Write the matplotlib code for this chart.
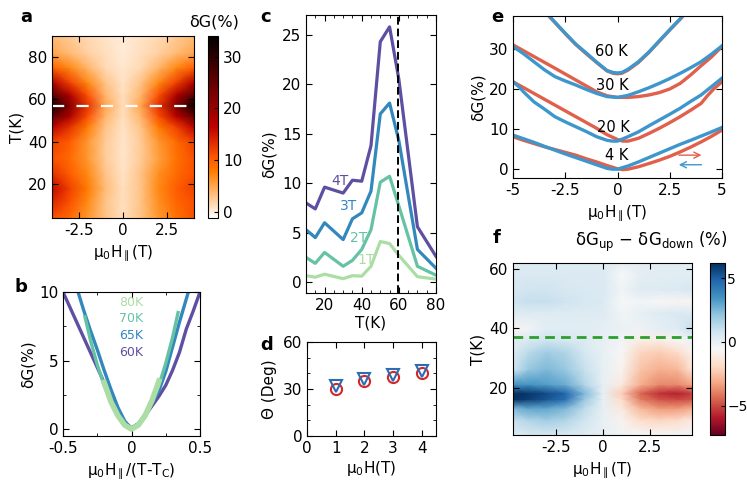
import numpy as np
import matplotlib.pyplot as plt
from matplotlib.ticker import MultipleLocator

plt.rcParams['font.family'] = ['DejaVu Sans']
plt.rcParams['mathtext.default'] = 'regular'
plt.rcParams['axes.unicode_minus'] = False
plt.rcParams['font.size'] = 11

# ---------- panel a : dG map (T vs H) ----------
a_H = [-4, -3, -2, -1, 0, 1, 2, 3, 4]
a_T = [4, 12, 18, 25, 32, 40, 47, 52, 57, 62, 68, 75, 82, 90]
a_dG = [
    [11, 9, 6, 3, 1, 3, 6, 8.5, 11],
    [14, 11, 7, 3, 1, 3, 6.5, 9.5, 11],
    [16, 12, 8, 3.5, 1, 3, 7, 10, 12],
    [13, 10, 7, 3, 0.8, 3, 6.5, 9, 11],
    [11, 9, 6, 2.5, 0.6, 2.5, 5.5, 8.5, 11],
    [12, 10, 6, 2.5, 0.6, 2.5, 6, 9, 12],
    [17, 13, 8, 3, 0.8, 3, 8, 12, 17],
    [25, 18, 11, 4, 1, 4, 11, 17, 25],
    [32, 22, 13, 5, 1.2, 5, 13, 22, 33],
    [26, 18, 11, 4, 1, 4, 11, 18, 26],
    [18, 12, 7, 3, 0.8, 3, 7, 12, 18],
    [10, 7, 4, 1.5, 0.5, 1.5, 4, 7, 10],
    [5, 3.5, 2, 1, 0.3, 1, 2, 3.5, 5],
    [3.5, 2.5, 1.5, 0.8, 0.3, 0.8, 1.5, 2.5, 3.5],
]
a_Tline = 57

# ---------- panel b : scaled curves ----------
b_labels = ['80K', '70K', '65K', '60K']
b_colors = ['#abdda4', '#66c2a5', '#3288bd', '#5e4fa2']
b_x = {
    '60K': [-0.5, -0.45, -0.4, -0.35, -0.3, -0.25, -0.2, -0.15, -0.1, -0.05, 0,
            0.05, 0.1, 0.15, 0.2, 0.25, 0.3, 0.35, 0.4, 0.45, 0.5],
    '65K': [-0.39, -0.35, -0.3, -0.25, -0.2, -0.15, -0.1, -0.05, 0,
            0.05, 0.1, 0.15, 0.2, 0.25, 0.3, 0.35, 0.415],
    '70K': [-0.34, -0.3, -0.25, -0.2, -0.15, -0.1, -0.05, 0,
            0.05, 0.1, 0.15, 0.2, 0.25, 0.3, 0.34],
    '80K': [-0.2, -0.15, -0.1, -0.05, 0, 0.05, 0.1, 0.15, 0.2],
}
b_y = {
    '60K': [10, 8.9, 7.8, 6.7, 5.6, 4.5, 3.4, 2.3, 1.3, 0.5, 0.1,
            0.4, 1.0, 1.7, 2.4, 3.2, 4.3, 5.6, 7.3, 8.6, 10],
    '65K': [10, 8.7, 7.2, 5.8, 4.3, 2.9, 1.6, 0.6, 0,
            0.4, 1.1, 1.9, 2.8, 4.2, 6.0, 7.8, 10],
    '70K': [8.2, 6.5, 4.7, 3.2, 2.0, 1.0, 0.3, 0,
            0.3, 1.0, 2.0, 3.2, 4.8, 6.7, 8.5],
    '80K': [3.4, 2.0, 1.0, 0.3, 0, 0.3, 1.0, 2.1, 3.5],
}
b_text_y = [9.27, 8.1, 6.85, 5.6]

# ---------- panel c : dG vs T ----------
c_T = [10, 15, 20, 30, 35, 40, 45, 50, 55, 60, 70, 80]
c_4T = [8.0, 7.4, 9.6, 9.0, 10.3, 10.2, 13.8, 24.3, 25.8, 20.5, 5.6, 2.6]
c_3T = [5.3, 4.5, 6.0, 4.3, 6.4, 7.0, 9.2, 17.0, 18.1, 14.3, 3.3, 1.4]
c_2T = [2.5, 1.9, 3.0, 1.6, 2.2, 3.3, 5.3, 10.1, 10.7, 7.7, 1.6, 0.7]
c_1T = [0.65, 0.5, 0.8, 0.35, 0.65, 0.6, 1.6, 4.1, 3.9, 2.7, 0.55, 0.3]
c_Tc = 59.5

# ---------- panel d : angle ----------
d_H = [1, 2, 3, 4]
d_circ = [30, 35, 37.5, 40.3]
d_tri = [32, 36.2, 39, 41.8]

# ---------- panel e : up/down sweeps ----------
e_up = {
    '4 K': ([-5, -4.5, -4, -3.5, -3, -2.5, -2, -1.5, -1, -0.5, 0, 0.25, 0.5, 1, 1.5,
             2, 2.5, 3, 3.5, 4, 4.5, 5],
            [8.1, 7.2, 6.4, 5.6, 4.9, 4.2, 3.5, 2.6, 1.8, 0.9, 0.1, -0.1, 0.0, 0.6, 1.4,
             2.25, 3.2, 4.3, 5.5, 6.8, 8.2, 9.75]),
    '20 K': ([-5, -4, -3, -2, -1, -0.5, 0, 0.25, 0.5, 1, 1.5, 2, 2.5, 3, 3.5, 4,
              4.3, 4.6, 5],
             [21.8, 18.9, 16.0, 13.1, 10.2, 8.6, 7.4, 7.0, 7.0, 7.7, 8.9, 10.2, 11.6,
              13.1, 14.7, 16.4, 18.3, 20.0, 21.8]),
    '30 K': ([-5, -4, -3, -2, -1, -0.5, 0, 0.5, 1, 1.5, 2, 2.5, 3, 3.5, 4, 4.5, 5],
             [31.0, 28.1, 25.2, 22.25, 19.3, 18.3, 17.9, 17.9, 18.1, 18.5, 19.1, 20.0,
              21.4, 23.5, 25.8, 28.0, 30.6]),
    '60 K': ([-3.25, -3, -2.5, -2, -1.5, -1, -0.5, -0.2, 0, 0.2, 0.5, 1, 1.5, 2, 2.5,
              3, 3.1],
             [38.0, 36.6, 33.8, 31.1, 28.8, 26.6, 24.5, 23.9, 23.8, 23.9, 24.7, 26.6,
              29.1, 31.9, 34.7, 37.4, 38.0]),
}
e_down = {
    '4 K': ([-5, -4.5, -4, -3.5, -3, -2.5, -2, -1.5, -1, -0.5, -0.25, 0, 0.25, 0.5, 1,
             1.5, 2, 2.5, 3, 3.5, 4, 4.5, 5],
            [8.5, 7.6, 6.7, 5.7, 4.75, 3.8, 2.9, 2.0, 1.1, 0.2, 0.0, 0.0, 0.4, 0.8, 1.8,
             2.9, 4.0, 5.1, 6.2, 7.2, 8.25, 9.3, 10.4]),
    '20 K': ([-5, -4.7, -4.5, -4, -3.5, -3, -2.5, -2, -1.5, -1, -0.5, -0.25, 0, 0.5,
              1, 1.5, 2, 2.5, 3, 3.5, 4, 4.5, 5],
             [21.8, 20.5, 19.3, 16.8, 15.0, 13.1, 11.8, 10.6, 9.4, 8.1, 7.2, 7.0, 7.0,
              8.1, 9.3, 10.8, 12.25, 13.7, 15.2, 16.9, 18.5, 20.6, 22.7]),
    '30 K': ([-5, -4.5, -4, -3.5, -3, -2.5, -2, -1.5, -1, -0.5, 0, 0.5, 1, 1.5, 2,
              2.5, 3, 3.5, 4, 4.5, 5],
             [30.6, 28.8, 26.8, 24.8, 23.1, 22.0, 21.0, 19.9, 18.9, 18.1, 17.9, 18.4,
              19.3, 20.3, 21.4, 22.6, 23.9, 25.3, 26.8, 28.7, 30.75]),
    '60 K': ([-3.25, -3, -2.5, -2, -1.5, -1, -0.5, -0.2, 0, 0.2, 0.5, 1, 1.5, 2, 2.5,
              3, 3.1],
             [38.1, 36.7, 33.9, 31.2, 29.0, 26.7, 24.6, 24.1, 24.0, 24.1, 24.9, 26.8,
              29.2, 32.0, 34.8, 37.5, 38.1]),
}
e_text = {'60 K': (-0.3, 29.3), '30 K': (-0.25, 20.8), '20 K': (-0.2, 10.5), '4 K': (-0.05, 3.5)}

# ---------- panel f : up - down map ----------
f_H = [-4.8, -4, -3, -2, -1, 0, 1, 2, 3, 4, 4.75]
f_T = [4, 9, 13, 16, 18, 21, 26, 32, 36, 40, 45, 49, 53, 58, 62]
f_diff = [
    [0.3, 0.5, 0.6, 0.5, 0.3, 0, -0.3, -0.5, -0.5, -0.4, -0.3],
    [1.0, 1.5, 1.8, 1.5, 0.8, 0, -0.8, -1.8, -2.0, -1.8, -1.2],
    [2.5, 3.0, 3.0, 2.5, 1.2, 0, -1.2, -2.8, -3.5, -3.5, -3.0],
    [6.5, 5.8, 5.2, 4.5, 2.0, 0, -1.8, -4.0, -4.8, -5.0, -4.8],
    [7.0, 6.0, 5.5, 4.8, 2.5, 0, -2.2, -4.5, -5.5, -5.8, -5.2],
    [3.5, 3.5, 3.2, 2.8, 1.5, 0, -1.2, -3.0, -3.8, -3.8, -3.2],
    [0.8, 2.0, 2.5, 2.0, 1.0, 0, -0.8, -2.5, -3.0, -2.8, -1.5],
    [0.3, 1.2, 1.8, 1.5, 0.6, 0, -0.6, -2.0, -2.2, -1.8, -0.8],
    [0.2, 0.5, 0.8, 0.6, 0.3, 0, -0.3, -1.0, -1.0, -0.6, -0.2],
    [-0.8, -0.3, 0.2, 0.2, 0.2, 0.1, -0.1, -0.2, 0.1, 0.3, 1.0],
    [0.3, 0.3, 0.3, 0.3, 0.3, 0.3, -0.3, 0.0, 0.3, 0.5, 0.5],
    [0.8, 1.0, 1.0, 0.8, 0.6, 0.4, -0.5, -0.3, -0.6, -0.7, -0.7],
    [0.6, 0.8, 0.8, 0.6, 0.5, 0.5, -0.3, 0.3, 0.3, 0.4, 0.6],
    [0.4, 0.5, 0.5, 0.4, 0.4, 0.4, -0.5, 0.1, 0.2, 0.2, 0.2],
    [0.2, 0.3, 0.3, 0.3, 0.3, 0.3, 0.0, 0.1, 0.2, 0.2, 0.2],
]
f_Tline = 37.2

W, Hh = 747, 483
fig = plt.figure(figsize=(W / 100, Hh / 100), dpi=100)


def box(x0, y0, x1, y1):
    return [x0 / W, (Hh - y1) / Hh, (x1 - x0) / W, (y1 - y0) / Hh]


def ticks_in(ax):
    ax.tick_params(which='both', direction='in', top=True, right=True)
    ax.tick_params(which='major', length=4)
    ax.tick_params(which='minor', length=2.5)


hlab = r'$\mu_0H_\parallel$(T)'

# a
ax = fig.add_axes(box(52, 36, 194, 218))
im = ax.pcolormesh(a_H, a_T, np.array(a_dG), shading='gouraud', cmap='gist_heat_r',
                   vmin=-1.2, vmax=34)
ax.axhline(a_Tline, color='white', lw=1.6, dashes=(5.5, 5.5))
ax.set_xlim(-4, 4)
ax.set_ylim(4, 90)
ax.set_xticks([-2.5, 0, 2.5], ['-2.5', '0', '2.5'])
ax.set_yticks([20, 40, 60, 80])
ax.set_xlabel(hlab)
ax.set_ylabel('T(K)', labelpad=2)
ticks_in(ax)
cax = fig.add_axes(box(208, 36, 218, 218))
cb = fig.colorbar(im, cax=cax, ticks=[0, 10, 20, 30])
cb.ax.tick_params(direction='in', length=3)
fig.text(214 / W, 1 - 22 / Hh, 'δG(%)', ha='center', va='center', fontsize=11.5)

# b
ax = fig.add_axes(box(63, 292, 200, 436))
for lab, col in zip(b_labels[::-1], b_colors[::-1]):
    lw = 4 if lab == '80K' else 2.4
    ax.plot(b_x[lab], b_y[lab], color=col, lw=lw)
for lab, col, ty in zip(b_labels, b_colors, b_text_y):
    ax.text(0.0, ty, lab, color=col, fontsize=9, ha='center', va='center')
ax.set_xlim(-0.5, 0.5)
ax.set_ylim(-0.5, 10)
ax.set_xticks([-0.5, 0, 0.5], ['-0.5', '0', '0.5'])
ax.set_yticks([0, 5, 10])
ax.xaxis.set_minor_locator(MultipleLocator(0.25))
ax.yaxis.set_minor_locator(MultipleLocator(2.5))
ax.set_xlabel(r'$\mu_0H_\parallel$/(T-T$_C$)')
ax.set_ylabel('δG(%)', labelpad=2)
ticks_in(ax)

# c
ax = fig.add_axes(box(306, 15, 436, 293))
for ys, col, lab, pos in [(c_1T, '#abdda4', '1T', (42.6, 2.2)),
                          (c_2T, '#66c2a5', '2T', (38.5, 4.5)),
                          (c_3T, '#3288bd', '3T', (33.1, 7.7)),
                          (c_4T, '#5e4fa2', '4T', (28.5, 10.2))]:
    ax.plot(c_T, ys, color=col, lw=2.3)
    ax.text(pos[0], pos[1], lab, color=col, fontsize=10, ha='center', va='center')
ax.axvline(c_Tc, color='black', lw=1.4, dashes=(4, 2))
ax.set_xlim(10, 80)
ax.set_ylim(-1.1, 27)
ax.set_xticks([20, 40, 60, 80])
ax.set_yticks([0, 5, 10, 15, 20, 25])
ax.xaxis.set_minor_locator(MultipleLocator(5))
ax.set_xlabel('T(K)', labelpad=2)
ax.set_ylabel('δG(%)')
ticks_in(ax)

# d
ax = fig.add_axes(box(307, 342, 436, 436))
ax.plot(d_H, d_circ, 'o', ms=8, mfc='none', mec='#d62728', mew=1.5)
ax.plot(d_H, d_tri, 'v', ms=8, mfc='none', mec='#2b6cb3', mew=1.5)
ax.set_xlim(0, 4.5)
ax.set_ylim(0, 60)
ax.set_xticks([0, 1, 2, 3, 4])
ax.set_yticks([0, 30, 60])
ax.yaxis.set_minor_locator(MultipleLocator(10))
ax.set_xlabel(r'$\mu_0$H(T)', labelpad=2)
ax.set_ylabel('Θ (Deg)')
ticks_in(ax)

# e
ax = fig.add_axes(box(513, 16, 722, 178))
red, blue = '#e0604c', '#3d96cc'
for k in e_up:
    ax.plot(*e_up[k], color=red, lw=2.4)
    ax.plot(*e_down[k], color=blue, lw=2.4)
for k, (x, y) in e_text.items():
    ax.text(x, y, k, fontsize=10.5, ha='center', va='center')
ax.annotate('', xy=(4.15, 3.5), xytext=(2.8, 3.5),
            arrowprops=dict(arrowstyle='->', color=red, lw=1))
ax.annotate('', xy=(2.8, 1.1), xytext=(4.15, 1.1),
            arrowprops=dict(arrowstyle='->', color=blue, lw=1))
ax.set_xlim(-5, 5)
ax.set_ylim(-2.2, 38.2)
ax.set_xticks([-5, -2.5, 0, 2.5, 5], ['-5', '-2.5', '0', '2.5', '5'])
ax.set_yticks([0, 10, 20, 30])
ax.set_xlabel(hlab)
ax.set_ylabel('δG(%)', labelpad=2)
ticks_in(ax)

# f
ax = fig.add_axes(box(513, 263, 692, 435))
im = ax.pcolormesh(f_H, f_T, np.array(f_diff), shading='gouraud', cmap='RdBu',
                   vmin=-7.3, vmax=6.2)
ax.axhline(f_Tline, color='#2ca02c', lw=2, dashes=(3.5, 2.2))
ax.set_xlim(-4.8, 4.75)
ax.set_ylim(4, 62)
ax.set_xticks([-2.5, 0, 2.5], ['-2.5', '0', '2.5'])
ax.set_yticks([20, 40, 60])
ax.set_xlabel(hlab)
ax.set_ylabel('T(K)', labelpad=2)
ticks_in(ax)
cax = fig.add_axes(box(710, 263, 725, 435))
cb = fig.colorbar(im, cax=cax)
cb.set_ticks([-5, 0, 5], labels=['−5', '0', '5'])
cb.ax.tick_params(direction='in', length=3, labelsize=10, pad=1.5)
fig.text(651 / W, 1 - 242 / Hh, 'δG$_{up}$ − δG$_{down}$ (%)', ha='center',
         va='center', fontsize=12)

# panel letters
for lab, x, y in [('a', 26, 17), ('b', 21, 287), ('c', 266, 17),
                  ('d', 267, 345), ('e', 497, 17), ('f', 497, 238)]:
    fig.text(x / W, 1 - y / Hh, lab, fontsize=13, fontweight='bold',
             ha='center', va='center')

plt.savefig('out.png', dpi=100)
